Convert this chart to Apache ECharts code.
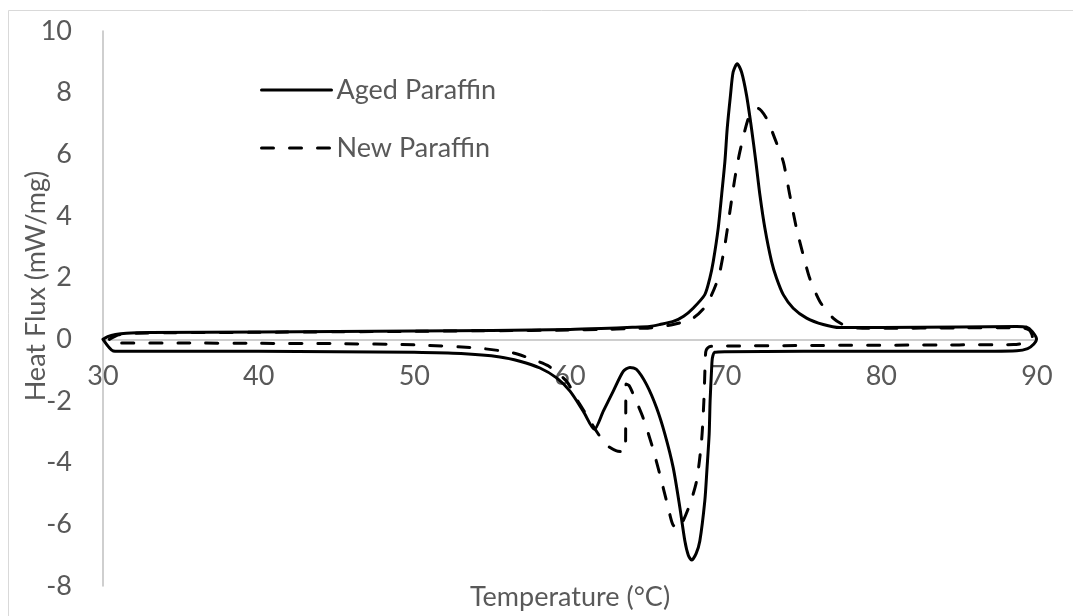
<!DOCTYPE html>
<html>
<head>
<meta charset="utf-8">
<script src="https://cdn.jsdelivr.net/npm/echarts@6/dist/echarts.min.js"></script>
<style>
html,body{margin:0;padding:0;background:#fff;}
#chart{width:1073px;height:616px;}
</style>
</head>
<body>
<div id="chart"></div>
<script>
// Aged Paraffin loop (temperature °C, heat flux mW/mg), in drawing order
const agedT = [30.0,30.3,30.8,31.5,33,40,50,55,60,62,64,65.13,65.77,66.63,67.3,67.91,68.66,68.98,69.2,69.52,69.74,69.95,70.1,70.31,70.48,70.74,71.02,71.34,71.66,71.94,72.2,72.52,72.95,73.27,73.7,74.34,75.2,76.27,77.33,80,85,88.7,89.3,89.7,89.97,89.8,89.4,88.7,85,75,70,69.3,69.15,69.1,69.0,68.94,68.8,68.66,68.34,68.1,67.81,67.6,67.38,67.06,66.63,66.1,65.56,64.92,64.28,63.85,63.42,62.78,62.14,61.57,60.85,60.0,59.14,58.07,56.78,55.5,53,50,45,40,35,31,30.66,30.0];
const agedQ = [0,0.09,0.16,0.2,0.22,0.24,0.27,0.29,0.32,0.35,0.39,0.42,0.48,0.58,0.75,1.01,1.45,1.98,2.52,3.6,4.68,5.76,6.84,7.92,8.67,8.94,8.67,7.92,6.84,5.76,4.68,3.6,2.52,1.98,1.45,1.01,0.69,0.48,0.38,0.38,0.4,0.42,0.4,0.25,0.0,-0.15,-0.3,-0.37,-0.39,-0.39,-0.4,-0.42,-0.6,-0.93,-2.0,-3.08,-4.2,-5.24,-6.54,-6.95,-7.16,-7.0,-6.54,-5.46,-4.16,-3.08,-2.22,-1.47,-0.98,-0.91,-1.04,-1.68,-2.33,-2.92,-2.33,-1.68,-1.25,-0.93,-0.71,-0.57,-0.46,-0.42,-0.4,-0.39,-0.39,-0.39,-0.38,0];

// New Paraffin loop
const newT = [30.4,31,32,40,50,55,60,62,64,65.1,66.63,67.91,68.77,69.52,69.95,70.27,70.59,70.91,71.45,71.8,72.09,72.63,73.16,73.7,74.12,74.55,74.98,75.4,76.05,76.9,77.76,78.5,80,85,89,89.5,89.7,89.65,89.4,88.5,85,75,70,69.0,68.75,68.7,68.6,68.45,68.13,67.7,67.27,66.95,66.6,66.31,65.77,65.3,64.7,64.12,63.8,63.6,63.58,63.55,62.99,62.35,61.7,61.0,60.5,59.78,58.6,57.64,56.36,54,50,45,40,35,31,30.6,30.4];
const newQ = [0,0.15,0.2,0.23,0.26,0.28,0.3,0.32,0.35,0.37,0.48,0.69,1.12,1.98,3.06,4.14,5.22,6.08,7.16,7.4,7.49,7.16,6.51,5.76,4.68,3.6,2.74,1.98,1.23,0.69,0.42,0.37,0.36,0.37,0.38,0.3,0.1,0,-0.1,-0.17,-0.18,-0.2,-0.22,-0.23,-0.35,-0.55,-2.0,-3.3,-4.6,-5.35,-5.89,-6.16,-6.0,-5.46,-4.38,-3.5,-2.55,-1.85,-1.5,-1.45,-2.5,-3.65,-3.62,-3.43,-2.98,-2.4,-2.0,-1.36,-0.86,-0.66,-0.44,-0.28,-0.18,-0.14,-0.13,-0.12,-0.12,-0.08,0];

const seriesNames = ['Aged Paraffin', 'New Paraffin'];
const xTitle = 'Temperature (°C)';
const yTitle = 'Heat Flux (mW/mg)';
const xMin = 30, xMax = 90, xStep = 10;
const yMin = -8, yMax = 10, yStep = 2;

const FONT = 'Lato';
const FS = 27;
const TXT = '#595959';
const AX = '#bfbfbf';
const GRID = {left:103, right:36, top:31, bottom:30};
const plotH = 616 - GRID.top - GRID.bottom;
// x axis crosses the value axis at heat flux = 0
const xAxisOffset = -((0 - yMin) / (yMax - yMin)) * plotH;

function pairs(a, b){ return a.map((v,i)=>[v,b[i]]); }

const chart = echarts.init(document.getElementById('chart'), null, {renderer:'canvas'});
chart.setOption({
  animation:false,
  backgroundColor:'#fff',
  grid:Object.assign({containLabel:false, outerBoundsMode:'none'}, GRID),
  legend:{
    orient:'vertical', left:260, top:75, padding:0,
    itemWidth:70, itemHeight:30, itemGap:28,
    itemStyle:{color:'rgba(0,0,0,0)', borderWidth:0},
    lineStyle:{width:3},
    textStyle:{color:TXT, fontFamily:FONT, fontSize:FS, lineHeight:30},
    data:seriesNames
  },
  xAxis:{
    type:'value', min:xMin, max:xMax, interval:xStep, position:'bottom', offset:xAxisOffset,
    axisLine:{show:true, onZero:false, lineStyle:{color:AX, width:1.5}},
    axisTick:{show:false}, splitLine:{show:false},
    axisLabel:{color:TXT, fontFamily:FONT, fontSize:FS, margin:23}
  },
  yAxis:{
    type:'value', min:yMin, max:yMax, interval:yStep,
    axisLine:{show:true, onZero:false, lineStyle:{color:AX, width:1.5}},
    axisTick:{show:false}, splitLine:{show:false},
    axisLabel:{color:TXT, fontFamily:FONT, fontSize:FS, margin:31}
  },
  graphic:[
    {type:'rect', silent:true, z:-1, shape:{x:8.5, y:10.5, width:1200, height:800},
     style:{fill:null, stroke:'#d9d9d9', lineWidth:1}},
    {type:'text', x:570, y:597, style:{text:xTitle, fill:TXT, font:FS+'px '+FONT, align:'center', verticalAlign:'middle'}},
    {type:'text', x:36, y:286, rotation:Math.PI/2, style:{text:yTitle, fill:TXT, font:FS+'px '+FONT, align:'center', verticalAlign:'middle'}}
  ],
  series:[
    {name:seriesNames[0], type:'line', data:pairs(agedT, agedQ), showSymbol:false, symbol:'none',
     smooth:0.25, lineStyle:{color:'#000', width:3, cap:'round', join:'round'}, itemStyle:{color:'rgba(0,0,0,0)', borderWidth:0}, z:3},
    {name:seriesNames[1], type:'line', data:pairs(newT, newQ), showSymbol:false, symbol:'none',
     smooth:0.25, lineStyle:{color:'#000', width:3, type:[12,16], cap:'round', join:'round'}, itemStyle:{color:'rgba(0,0,0,0)', borderWidth:0}, z:2}
  ]
});
</script>
</body>
</html>
